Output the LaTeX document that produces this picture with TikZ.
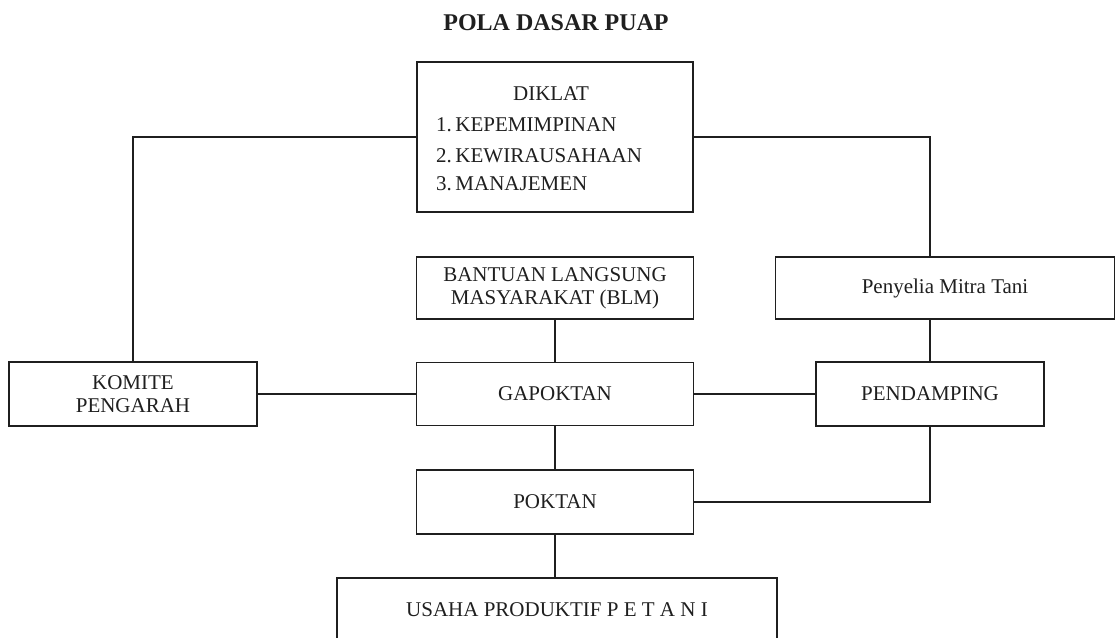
\documentclass[tikz,border=0pt]{standalone}
\usepackage{fontspec}
\setmainfont{Liberation Serif}
\begin{document}
\begin{tikzpicture}[x=1pt,y=-1pt,
  box/.style={draw=black!88,line width=1.4pt,inner sep=0pt,align=center,
    font=\fontsize{21}{23}\selectfont,text=black!88},
  lbl/.style={inner sep=0pt,font=\fontsize{21}{23}\selectfont,text=black!88,
    text height=13.6pt,text depth=0pt},
  one/.style={text height=13.6pt,text depth=0pt},
  link/.style={draw=black!88,line width=1.4pt}]
\useasboundingbox (0,0) rectangle (1116,637);
\clip (0,0) rectangle (1116,637);
\node[inner sep=0pt,font=\fontsize{24}{26}\selectfont\bfseries,text=black!88,
  text height=16pt,text depth=0pt] (title) at (556,22) {POLA DASAR PUAP};
% boxes
\node[box,minimum width=276pt,minimum height=150pt] (diklat) at (555,137) {};
\node[lbl] (dk0) at (551,94) {DIKLAT};
\node[lbl,anchor=west] (dk1) at (436,125) {1.\,KEPEMIMPINAN};
\node[lbl,anchor=west] (dk2) at (436,156) {2.\,KEWIRAUSAHAAN};
\node[lbl,anchor=west] (dk3) at (436,184) {3.\,MANAJEMEN};
\node[box,minimum width=277pt,minimum height=62pt] (blm) at (555,288)
  {BANTUAN LANGSUNG\\MASYARAKAT (BLM)};
\node[box,minimum width=339pt,minimum height=62pt] (penyelia) at (945,288)
  {Penyelia Mitra Tani};
\node[box,minimum width=248pt,minimum height=64pt] (komite) at (133,394)
  {KOMITE\\PENGARAH};
\node[box,one,minimum width=277pt,minimum height=63pt] (gapoktan) at (555,394)
  {GAPOKTAN};
\node[box,one,minimum width=228pt,minimum height=64pt] (pendamping) at (930,394)
  {PENDAMPING};
\node[box,one,minimum width=277pt,minimum height=64pt] (poktan) at (555,502)
  {POKTAN};
\node[box,one,minimum width=440pt,minimum height=64pt,
  font=\fontsize{21}{23}\selectfont] (usaha) at (557,610)
  {USAHA PRODUKTIF P E T A N I};
% connectors
\draw[link] (diklat.west) -| (komite.north);
\draw[link] (diklat.east) -| (penyelia.north -| pendamping.north);
\draw[link] (pendamping.north |- penyelia.south) -- (pendamping.north);
\draw[link] (blm.south) -- (gapoktan.north);
\draw[link] (komite.east) -- (komite.east -| gapoktan.west);
\draw[link] (gapoktan.east) -- (gapoktan.east -| pendamping.west);
\draw[link] (gapoktan.south) -- (poktan.north);
\draw[link] (poktan.east) -| (pendamping.south);
\draw[link] (poktan.south) -- (poktan.south |- usaha.north);
\end{tikzpicture}
\end{document}
